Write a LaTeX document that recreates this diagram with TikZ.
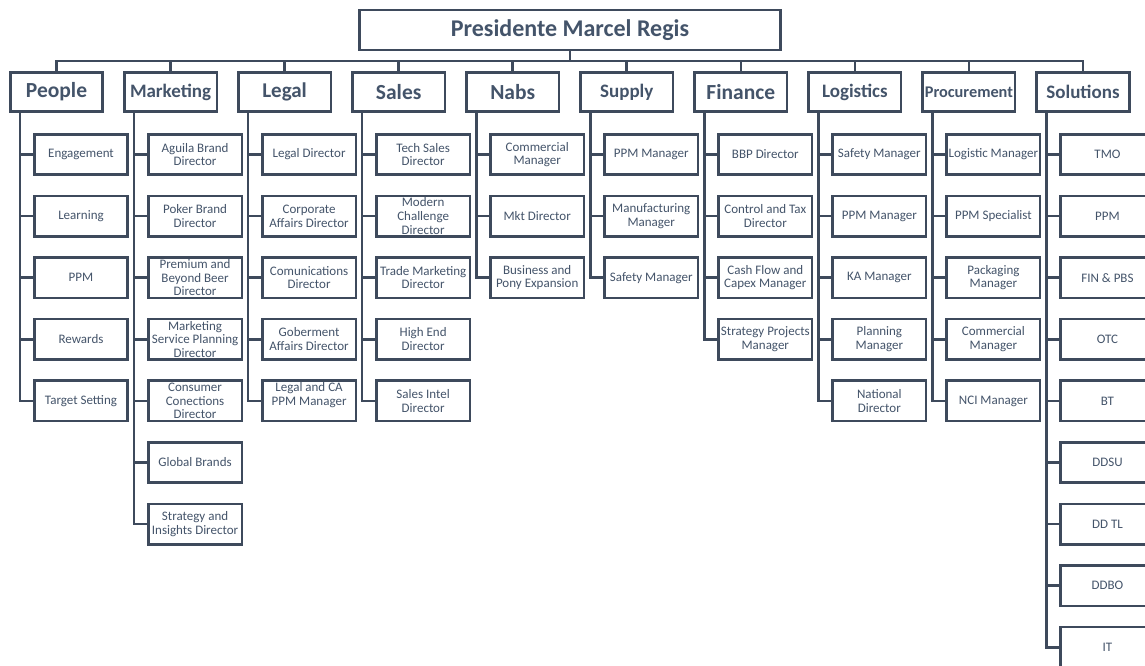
\documentclass[tikz,border=0pt]{standalone}
\usepackage{fontspec}
\setmainfont{Carlito}
\usetikzlibrary{calc}
\definecolor{ink}{HTML}{44546A}
\definecolor{edge}{HTML}{3E4A5C}
\tikzset{
  conn/.style={draw=edge,line width=2.6pt},
  topbox/.style={draw=edge,line width=2.6pt,fill=white,minimum width=421pt,minimum height=40pt,inner sep=0pt,text=ink,font=\bfseries\fontsize{24}{26}\selectfont},
  hdrbox/.style={draw=edge,line width=2.6pt,fill=white,minimum width=92.5pt,minimum height=39.5pt,inner sep=0pt,text=ink},
  kidbox/.style={draw=edge,line width=2.6pt,fill=white,minimum width=93.5pt,minimum height=40.5pt,inner sep=0pt,align=center,text=ink,font=\fontsize{13}{13.6}\selectfont},
}
\newcommand\hdr[4]{%
  \node[hdrbox,font=\bfseries\fontsize{#3}{#3}\selectfont] (#1) at ({56.5+114.05*#2},92) {#4};
  \draw[conn] (top.south) -- ++(0,9.5) -| (#1.north);}
\newcommand\kid[4][]{%
  \node[kidbox,#1] (#2#3) at ($(#2.center)+(24.5,{62.5+61.6*(#3-1)})$) {#4};
  \draw[conn] ([xshift=-36.5pt]#2.south) |- (#2#3.west);}
\begin{document}
\begin{tikzpicture}[x=1pt,y=-1pt]
\useasboundingbox (0,0) rectangle (1145,665);
\fill[white] (0,0) rectangle (1145,665);
\clip (0,0) rectangle (1145,665);
\node[topbox] (top) at (570,30) {Presidente Marcel Regis};
\hdr{People}{0}{21.5}{People}
\hdr{Marketing}{1}{19}{Marketing}
\hdr{Legal}{2}{21}{Legal}
\hdr{Sales}{3}{21.5}{Sales}
\hdr{Nabs}{4}{21.5}{Nabs}
\hdr{Supply}{5}{19}{Supply}
\hdr{Finance}{6}{21.5}{Finance}
\hdr{Logistics}{7}{19}{Logistics}
\hdr{Procurement}{8}{16.3}{Procurement}
\hdr{Solutions}{9}{19}{Solutions}
% People
\kid{People}{1}{Engagement}
\kid{People}{2}{Learning}
\kid{People}{3}{PPM}
\kid{People}{4}{Rewards}
\kid{People}{5}{Target Setting}
% Marketing
\kid{Marketing}{1}{Aguila Brand\\Director}
\kid{Marketing}{2}{Poker Brand\\Director}
\kid{Marketing}{3}{Premium and\\Beyond Beer\\Director}
\kid{Marketing}{4}{Marketing\\Service Planning\\Director}
\kid{Marketing}{5}{Consumer\\Conections\\Director}
\kid{Marketing}{6}{Global Brands}
\kid{Marketing}{7}{Strategy and\\Insights Director}
% Legal
\kid{Legal}{1}{Legal Director}
\kid{Legal}{2}{Corporate\\Affairs Director}
\kid{Legal}{3}{Comunications\\Director}
\kid{Legal}{4}{Goberment\\Affairs Director}
\kid[text depth=14pt]{Legal}{5}{Legal and CA\\PPM Manager}
% Sales
\kid{Sales}{1}{Tech Sales\\Director}
\kid{Sales}{2}{Modern\\Challenge\\Director}
\kid{Sales}{3}{Trade Marketing\\Director}
\kid{Sales}{4}{High End\\Director}
\kid{Sales}{5}{Sales Intel\\Director}
% Nabs
\kid{Nabs}{1}{Commercial\\Manager}
\kid{Nabs}{2}{Mkt Director}
\kid{Nabs}{3}{Business and\\Pony Expansion}
% Supply
\kid{Supply}{1}{PPM Manager}
\kid{Supply}{2}{Manufacturing\\Manager}
\kid{Supply}{3}{Safety Manager}
% Finance
\kid{Finance}{1}{BBP Director}
\kid{Finance}{2}{Control and Tax\\Director}
\kid{Finance}{3}{Cash Flow and\\Capex Manager}
\kid{Finance}{4}{Strategy Projects\\Manager}
% Logistics
\kid{Logistics}{1}{Safety Manager}
\kid{Logistics}{2}{PPM Manager}
\kid{Logistics}{3}{KA Manager}
\kid{Logistics}{4}{Planning\\Manager}
\kid{Logistics}{5}{National\\Director}
% Procurement
\kid{Procurement}{1}{Logistic Manager}
\kid{Procurement}{2}{PPM Specialist}
\kid{Procurement}{3}{Packaging\\Manager}
\kid{Procurement}{4}{Commercial\\Manager}
\kid{Procurement}{5}{NCI Manager}
% Solutions
\kid{Solutions}{1}{TMO}
\kid{Solutions}{2}{PPM}
\kid{Solutions}{3}{FIN \& PBS}
\kid{Solutions}{4}{OTC}
\kid{Solutions}{5}{BT}
\kid{Solutions}{6}{DDSU}
\kid{Solutions}{7}{DD TL}
\kid{Solutions}{8}{DDBO}
\kid{Solutions}{9}{IT}
\end{tikzpicture}
\end{document}
